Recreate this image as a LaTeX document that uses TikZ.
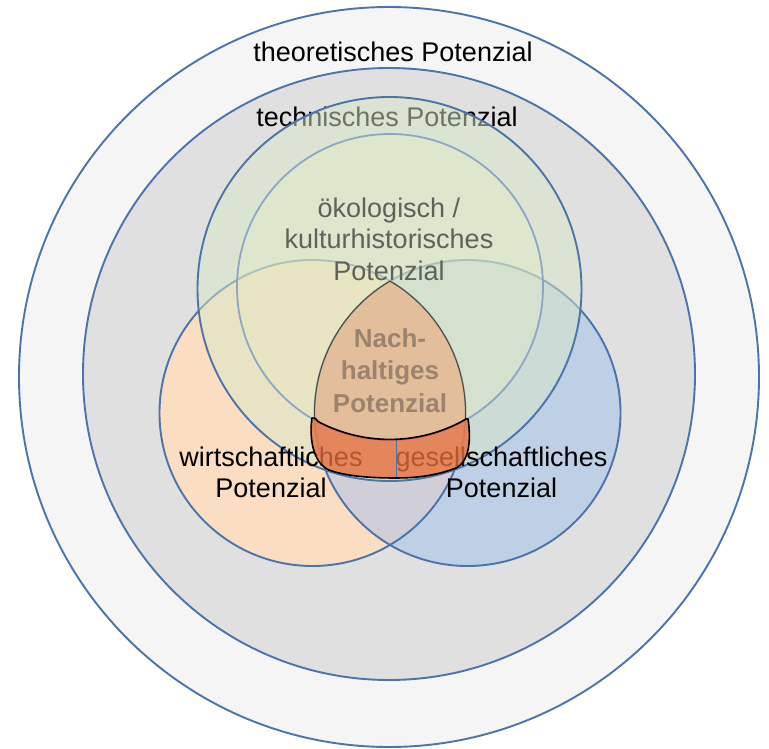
\documentclass[tikz,border=0pt]{standalone}
\usepackage{fontspec}
\setmainfont{Liberation Sans}
\begin{document}
\begin{tikzpicture}[x=1pt,y=-1pt,
  ring/.style={draw=ringblue,line width=1.9pt},
  lbl/.style={inner sep=0pt,align=center,font=\fontsize{27}{31.5}\selectfont},
  nlbl/.style={inner sep=0pt,align=center,text=nachtext,font=\bfseries\fontsize{26}{32.5}\selectfont}]
\definecolor{ringblue}{HTML}{4A74AA}
\definecolor{okoline}{HTML}{8EA6C6}
\definecolor{outerfill}{HTML}{F5F5F5}
\definecolor{techfill}{HTML}{E0E0E0}
\definecolor{wfill}{HTML}{FBDEC2}
\definecolor{gfill}{HTML}{BED0E5}
\definecolor{wgfill}{HTML}{D0CFD7}
\definecolor{c3fill}{HTML}{D8E8C8}
\definecolor{okofill}{HTML}{E8EEBE}
\definecolor{okotext}{HTML}{5F625C}
\definecolor{nachfill}{HTML}{E3BE9A}
\definecolor{nachtext}{HTML}{9A8470}
\definecolor{cupfill}{HTML}{E96D3B}
\useasboundingbox (0,0) rectangle (769,749);
\fill[white] (0,0) rectangle (769,749);
% outer rings
\filldraw[ring,fill=outerfill] (389,377) circle[radius=370];
\filldraw[ring,fill=techfill] (389,374) circle[radius=306];
\node[lbl] (theo) at (393,52) {theoretisches Potenzial};
% wirtschaftlich / gesellschaftlich
\fill[wfill] (312.5,413) circle[radius=153];
\fill[gfill] (467.5,413) circle[radius=153];
\begin{scope}
  \clip (312.5,413) circle[radius=153];
  \fill[wgfill] (467.5,413) circle[radius=153];
\end{scope}
\draw[ring] (312.5,413) circle[radius=153];
\draw[ring] (467.5,413) circle[radius=153];
\node[lbl] (tech) at (387,117) {technisches Potenzial};
% technisches inner circle
\fill[c3fill,fill opacity=0.5] (389.5,289) circle[radius=192];
\draw[ring] (389.5,289) circle[radius=192];
% oekologisch circle
\fill[okofill,fill opacity=0.3] (390,287) circle[radius=153];
\draw[okoline,line width=1.8pt] (390,287) circle[radius=153];
\node[lbl,text=okotext] (oko) at (389,239) {ökologisch /\\kulturhistorisches\\Potenzial};
\node[lbl] (wirt) at (271,472.5) {wirtschaftliches\\Potenzial};
\node[lbl] (ges) at (501.5,472.5) {gesellschaftliches\\Potenzial};
% nachhaltiges Potenzial
\filldraw[fill=nachfill,draw=black!70,line width=1.2pt]
  (390,281.08) arc[start angle=239.56,end angle=177.31,radius=153]
  arc[start angle=119.5,end angle=60.5,radius=153]
  arc[start angle=2.69,end angle=-59.56,radius=153] -- cycle;
\node[nlbl] (nach) at (390,370.5) {Nach-\\haltiges\\Potenzial};
% cup
\fill[cupfill,fill opacity=0.78]
  (312,418) .. controls (314,417) and (316,418.5) .. (318,421.5)
  arc[start angle=118,end angle=62,radius=153]
  .. controls (464,420) and (467,418) .. (468,419)
  .. controls (471,438) and (470,461) .. (456,468)
  .. controls (435,476) and (415,478) .. (395,478)
  .. controls (370,478) and (345,476) .. (329,470)
  .. controls (313,463) and (309,438) .. cycle;
\coordinate (dtop) at (396,440);
\coordinate (dbot) at (396,478);
\draw[ringblue,line width=0.9pt] (dtop) -- (dbot);
\draw[black,line width=1.6pt,line join=round]
  (312,418) .. controls (314,417) and (316,418.5) .. (318,421.5)
  arc[start angle=118,end angle=62,radius=153]
  .. controls (464,420) and (467,418) .. (468,419)
  .. controls (471,438) and (470,461) .. (456,468)
  .. controls (435,476) and (415,478) .. (395,478)
  .. controls (370,478) and (345,476) .. (329,470)
  .. controls (313,463) and (309,438) .. cycle;
\end{tikzpicture}
\end{document}
